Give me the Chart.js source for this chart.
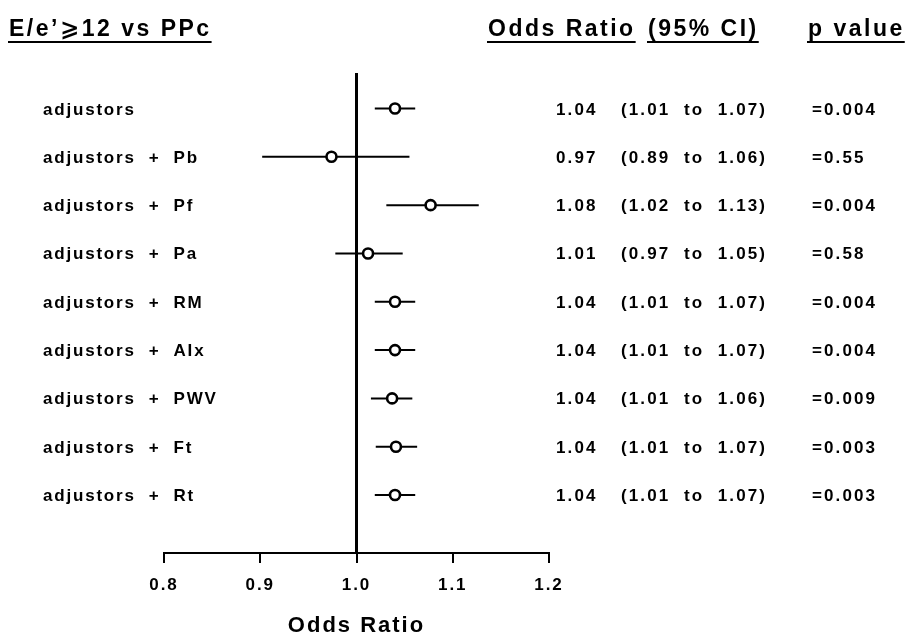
<!DOCTYPE html>
<html>
<head>
<meta charset="utf-8">
<script src="https://cdn.jsdelivr.net/npm/chart.js@4.4.1/dist/chart.umd.min.js"></script>
<style>
  html, body { margin: 0; padding: 0; background: #fff; }
  #wrap { width: 909px; height: 640px; position: relative; }
</style>
</head>
<body>
<div id="wrap"><canvas id="c" width="909" height="640"></canvas></div>
<script>
// ---- data ----
const rowLabels = ['adjustors', 'adjustors  +  Pb', 'adjustors  +  Pf', 'adjustors  +  Pa', 'adjustors  +  RM',
                   'adjustors  +  AIx', 'adjustors  +  PWV', 'adjustors  +  Ft', 'adjustors  +  Rt'];
const oddsRatio = [1.040, 0.974, 1.077, 1.012, 1.040, 1.040, 1.037, 1.041, 1.040];
const ciLow     = [1.019, 0.902, 1.031, 0.978, 1.019, 1.019, 1.015, 1.020, 1.019];
const ciHigh    = [1.061, 1.055, 1.127, 1.048, 1.061, 1.061, 1.058, 1.063, 1.061];
const orText    = ['1.04', '0.97', '1.08', '1.01', '1.04', '1.04', '1.04', '1.04', '1.04'];
const ciText    = ['(1.01  to  1.07)', '(0.89  to  1.06)', '(1.02  to  1.13)', '(0.97  to  1.05)', '(1.01  to  1.07)',
                   '(1.01  to  1.07)', '(1.01  to  1.06)', '(1.01  to  1.07)', '(1.01  to  1.07)'];
const pText     = ['=0.004', '=0.55', '=0.004', '=0.58', '=0.004', '=0.004', '=0.009', '=0.003', '=0.003'];
const xTicks    = [0.8, 0.9, 1.0, 1.1, 1.2];
const referenceValue = 1.0;
const headerTitle = 'E/e’⩾12 vs PPc';
const headerOR = 'Odds Ratio';
const headerCI = '(95% CI)';
const headerP = 'p value';
const axisTitle = 'Odds Ratio';

// ---- layout constants ----
const FONT = '"Liberation Sans", Arial, Helvetica, "DejaVu Sans", sans-serif';
const Y_MIN = 0.265, Y_MAX = 10.2;

const rows = rowLabels.map((_, i) => i + 1);

const datasets = [];
// points (first => drawn on top)
datasets.push({
  type: 'scatter',
  data: rows.map((r, i) => ({ x: oddsRatio[i], y: r })),
  pointStyle: 'circle',
  pointRadius: 5,
  pointBorderWidth: 2.6,
  pointBackgroundColor: '#ffffff',
  pointBorderColor: '#000000',
  showLine: false
});
// confidence interval lines
rows.forEach((r, i) => {
  datasets.push({
    type: 'line',
    data: [{ x: ciLow[i], y: r }, { x: ciHigh[i], y: r }],
    borderColor: '#000000',
    borderWidth: 2,
    pointRadius: 0,
    fill: false
  });
});
// reference line at OR = 1
datasets.push({
  type: 'line',
  data: [{ x: referenceValue, y: Y_MIN }, { x: referenceValue, y: Y_MAX }],
  borderColor: '#000000',
  borderWidth: 3,
  pointRadius: 0,
  fill: false
});

const textPlugin = {
  id: 'forestText',
  beforeDraw(chart) {
    chart.ctx.letterSpacing = '2px';
  },
  afterDraw(chart) {
    const ctx = chart.ctx;
    const ys = chart.scales.y;
    ctx.save();
    ctx.fillStyle = '#000';
    ctx.textAlign = 'left';
    ctx.textBaseline = 'alphabetic';
    ctx.font = 'bold 17px ' + FONT;
    rows.forEach((r, i) => {
      const py = ys.getPixelForValue(r) + 6;
      ctx.letterSpacing = '1.8px';
      ctx.fillText(rowLabels[i], 43, py);
      ctx.letterSpacing = '2.1px';
      ctx.fillText(orText[i], 556, py);
      ctx.fillText(ciText[i], 621, py);
      ctx.fillText(pText[i], 812, py);
    });
    // headers with underline
    ctx.font = 'bold 23px ' + FONT;
    ctx.letterSpacing = '2.5px';
    const heads = [[headerTitle, 9], [headerOR, 488], [headerCI, 648], [headerP, 808]];
    ctx.strokeStyle = '#000';
    ctx.lineWidth = 2;
    heads.forEach(([t, x]) => {
      ctx.fillText(t, x, 36);
      const w = ctx.measureText(t).width;
      ctx.beginPath();
      ctx.moveTo(x - 1, 42);
      ctx.lineTo(x + w, 42);
      ctx.stroke();
    });
    ctx.restore();
  }
};

new Chart(document.getElementById('c'), {
  data: { datasets },
  options: {
    responsive: false,
    animation: false,
    events: [],
    layout: { padding: { left: 164, right: 360, top: 73, bottom: 0 } },
    plugins: { legend: { display: false }, tooltip: { enabled: false } },
    scales: {
      x: {
        type: 'linear',
        position: 'bottom',
        min: xTicks[0],
        max: xTicks[xTicks.length - 1],
        afterBuildTicks: (s) => { s.ticks = xTicks.map(v => ({ value: v })); },
        afterFit: (s) => { s.height = 87; },
        border: { display: true, color: '#000', width: 2 },
        grid: { drawOnChartArea: false, drawTicks: true, tickLength: 10, color: '#000', lineWidth: 2 },
        ticks: {
          color: '#000',
          padding: 12,
          maxRotation: 0,
          font: { family: FONT, size: 17, weight: 'bold' },
          callback: (v) => Number(v).toFixed(1)
        },
        title: {
          display: true,
          text: axisTitle,
          color: '#000',
          font: { family: FONT, size: 22, weight: 'bold' },
          padding: { top: 0, bottom: 1 }
        }
      },
      y: {
        type: 'linear',
        display: false,
        reverse: true,
        min: Y_MIN,
        max: Y_MAX
      }
    }
  },
  plugins: [textPlugin]
});
</script>
</body>
</html>
